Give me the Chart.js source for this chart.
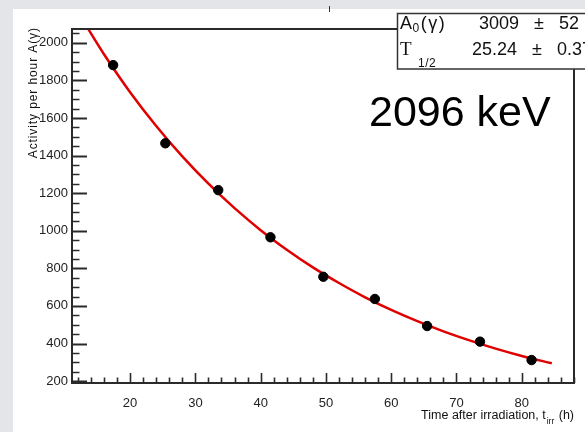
<!DOCTYPE html>
<html><head><meta charset="utf-8">
<script src="https://cdn.jsdelivr.net/npm/chart.js@4.4.0/dist/chart.umd.min.js"></script>
<style>html,body{margin:0;padding:0;background:#e3e5e9;}canvas{display:block}</style>
</head><body>
<canvas id="c" width="585" height="432"></canvas>
<script>
// Measured points
const timeH = [17.4, 25.4, 33.5, 41.5, 49.6, 57.5, 65.5, 73.6, 81.5];
const activity = [1881, 1465, 1216, 965, 755, 637, 493, 410, 312];
const activityErr = [22, 20, 18, 16, 14, 13, 12, 11, 10];
// Fitted decay curve
const fitTime = [13.6, 16, 20, 24, 28, 32, 36, 40, 44, 48, 52, 56, 60, 64, 68, 72, 76, 80, 84.6];
const fitActivity = [2072, 1939, 1737, 1557, 1395, 1250, 1120, 1003, 899, 805, 722, 646, 579, 519, 465, 417, 373, 334, 295];
// Axis ticks
const xTickLabels = [20, 30, 40, 50, 60, 70, 80];
const yTickLabels = [200, 400, 600, 800, 1000, 1200, 1400, 1600, 1800, 2000];
const xMinorStep = 2;
const yMinorStep = 50;
// Texts
const yTitle = 'Activity per hour A(\u03b3)';
const energyLabel = '2096 keV';
const statA0Value = '3009', statA0Err = '52';
const statTValue = '25.24', statTErr = '0.37';

const FONT = "'Liberation Sans', Arial, Helvetica, sans-serif";

function spacedText(c, str, x, y, sp) {
  let cx = x;
  for (const ch of str) {
    c.fillText(ch, cx, y);
    cx += c.measureText(ch).width + sp;
  }
  return cx - sp;
}

const bgPlugin = {
  id: 'bg',
  beforeDraw(chart) {
    const c = chart.ctx;
    c.save();
    c.fillStyle = '#e3e5e9';
    c.fillRect(0, 0, chart.width, chart.height);
    c.fillStyle = '#ffffff';
    c.fillRect(13, 9, chart.width - 13, chart.height - 9);
    c.restore();
  }
};

const decoPlugin = {
  id: 'deco',
  beforeDatasetsDraw(chart) {
    const c = chart.ctx, a = chart.chartArea;
    const xs = chart.scales.x, ys = chart.scales.y;
    c.save();
    c.strokeStyle = '#2a2a2a';
    c.lineWidth = 1.6;
    for (let v = Math.ceil(xs.min / xMinorStep) * xMinorStep; v <= xs.max; v += xMinorStep) {
      const px = Math.round(xs.getPixelForValue(v)) + 0.5;
      const major = xTickLabels.includes(v);
      c.beginPath();
      c.moveTo(px, a.bottom);
      c.lineTo(px, a.bottom - (major ? 10 : 5.5));
      c.stroke();
    }
    for (let v = Math.ceil(ys.min / yMinorStep) * yMinorStep; v <= ys.max; v += yMinorStep) {
      const py = Math.round(ys.getPixelForValue(v)) + 0.5;
      const major = yTickLabels.includes(v);
      c.lineWidth = major ? 2 : 1.5;
      c.beginPath();
      c.moveTo(a.left, py);
      c.lineTo(a.left + (major ? 15 : 7.5), py);
      c.stroke();
    }
    c.strokeStyle = '#000';
    c.lineWidth = 2;
    timeH.forEach((t, i) => {
      const px = xs.getPixelForValue(t);
      c.beginPath();
      c.moveTo(px, ys.getPixelForValue(activity[i] - activityErr[i]));
      c.lineTo(px, ys.getPixelForValue(activity[i] + activityErr[i]));
      c.stroke();
    });
    c.restore();
  },
  afterDatasetsDraw(chart) {
    const c = chart.ctx, a = chart.chartArea;
    c.save();
    c.strokeStyle = '#2a2a2a';
    c.lineWidth = 2;
    c.strokeRect(a.left, a.top, a.right - a.left, a.bottom - a.top);

    // y title (rotated), ends at top y=28
    c.save();
    c.translate(37, 28);
    c.rotate(-Math.PI / 2);
    c.fillStyle = '#111';
    c.font = '12px ' + FONT;
    c.textAlign = 'left';
    c.textBaseline = 'alphabetic';
    const sp = 0.9;
    let tw = 0;
    for (const ch of yTitle) tw += c.measureText(ch).width + sp;
    tw -= sp;
    spacedText(c, yTitle, -tw, 0, sp);
    c.restore();

    // x title with subscript
    c.fillStyle = '#111';
    c.textBaseline = 'alphabetic';
    c.textAlign = 'left';
    const mainF = '12.5px ' + FONT, subF = '8.5px ' + FONT;
    c.font = mainF;
    const p1 = 'Time after irradiation, t', p3 = ' (h)';
    const w1 = c.measureText(p1).width, w3 = c.measureText(p3).width;
    c.font = subF;
    const w2 = c.measureText('irr').width + 2;
    const x0 = a.right - (w1 + w2 + w3);
    const by = 419;
    c.font = mainF;
    c.fillText(p1, x0, by);
    c.font = subF;
    c.fillText('irr', x0 + w1 + 1, by + 5);
    c.font = mainF;
    c.fillText(p3, x0 + w1 + w2, by);

    // energy label
    c.font = '43px ' + FONT;
    c.fillStyle = '#000';
    c.fillText(energyLabel, 369, 126);

    // stat box
    c.fillStyle = '#fff';
    c.fillRect(397, 13, 200, 56);
    c.strokeStyle = '#333';
    c.lineWidth = 1.5;
    c.strokeRect(397.5, 13.5, 200, 55.5);
    c.fillStyle = '#111';
    // A0(gamma)
    c.font = '18px ' + FONT;
    c.fillText('A', 400, 29);
    const wA = c.measureText('A').width;
    c.font = '12px ' + FONT;
    c.fillText('0', 400 + wA + 0.5, 32);
    const w0 = c.measureText('0').width;
    c.font = '18px ' + FONT;
    spacedText(c, '(\u03b3)', 400 + wA + w0 + 2, 29, 1.5);
    // T1/2
    c.font = "19px 'Liberation Serif', 'Times New Roman', serif";
    c.fillText('T', 400, 55);
    c.font = '12px ' + FONT;
    spacedText(c, '1/2', 418, 67, 0.5);
    // values
    c.font = '18px ' + FONT;
    c.fillText(statA0Value, 479, 29);
    c.fillText('\u00b1', 534, 29);
    c.fillText(statA0Err, 559, 29);
    c.fillText(statTValue, 472, 55);
    c.fillText('\u00b1', 532, 55);
    c.fillText(statTErr, 557, 55);

    // small mark at top
    c.strokeStyle = '#333';
    c.lineWidth = 1;
    c.beginPath();
    c.moveTo(329.5, 6);
    c.lineTo(329.5, 12);
    c.stroke();
    c.restore();
  }
};

new Chart(document.getElementById('c'), {
  type: 'scatter',
  data: {
    datasets: [
      {
        type: 'scatter',
        data: timeH.map((t, i) => ({ x: t, y: activity[i] })),
        backgroundColor: '#000',
        borderColor: '#000',
        pointRadius: 4.7,
        pointHoverRadius: 4.7,
        order: 0
      },
      {
        type: 'line',
        data: fitTime.map((t, i) => ({ x: t, y: fitActivity[i] })),
        borderColor: '#e00000',
        borderWidth: 2.5,
        pointRadius: 0,
        fill: false,
        cubicInterpolationMode: 'monotone',
        order: 1
      }
    ]
  },
  options: {
    responsive: false,
    animation: false,
    devicePixelRatio: 1,
    layout: { padding: { left: 0, right: 11, top: 29, bottom: 0 } },
    plugins: { legend: { display: false }, tooltip: { enabled: false } },
    scales: {
      x: {
        type: 'linear',
        min: 11.1,
        max: 88.0,
        grid: { display: false, drawTicks: false },
        border: { display: false },
        afterFit(s) { s.height = 49; },
        afterBuildTicks(s) { s.ticks = xTickLabels.map(v => ({ value: v })); },
        ticks: {
          color: '#222',
          font: { family: FONT, size: 13 },
          padding: 13,
          maxRotation: 0,
          autoSkip: false,
          callback: v => String(v)
        }
      },
      y: {
        type: 'linear',
        min: 190,
        max: 2073,
        grid: { display: false, drawTicks: false },
        border: { display: false },
        afterFit(s) { s.width = 72; },
        afterBuildTicks(s) { s.ticks = yTickLabels.map(v => ({ value: v })); },
        ticks: {
          color: '#222',
          font: { family: FONT, size: 13 },
          padding: 4,
          autoSkip: false,
          callback: v => String(v)
        }
      }
    }
  },
  plugins: [bgPlugin, decoPlugin]
});
</script>
</body></html>
